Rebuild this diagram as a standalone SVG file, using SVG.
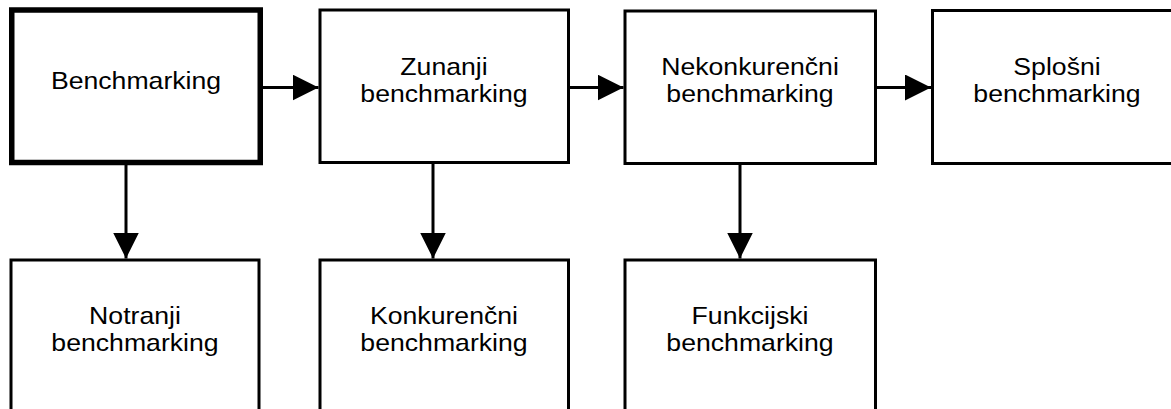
<svg xmlns="http://www.w3.org/2000/svg" width="1171" height="409" viewBox="0 0 1171 409">
  <defs>
    <style>
      .box { fill: #ffffff; stroke: #000000; stroke-width: 3; }
      .box.main { stroke-width: 5.5; }
      .label { font-family: "Liberation Sans", Arial, sans-serif; font-size: 24px; fill: #000000; text-anchor: middle; }
      .edge { stroke: #000000; stroke-width: 3; fill: none; }
    </style>
    <marker id="arrow" markerUnits="userSpaceOnUse" markerWidth="26" markerHeight="26" refX="26" refY="13" orient="auto">
      <path d="M0,0 L26,13 L0,26 Z" fill="#000000"/>
    </marker>
  </defs>

  <rect width="1171" height="409" fill="#ffffff"/>

  <!-- top row -->
  <g id="node-benchmarking">
    <rect class="box main" x="11.75" y="10" width="248.5" height="152.5"/>
    <text class="label" transform="translate(136 89) scale(1.11 1)">Benchmarking</text>
  </g>
  <g id="node-zunanji">
    <rect class="box" x="320" y="10" width="248.5" height="152.5"/>
    <text class="label" transform="translate(444 75) scale(1.11 1)">Zunanji</text>
    <text class="label" transform="translate(444 102) scale(1.11 1)">benchmarking</text>
  </g>
  <g id="node-nekonkurencni">
    <rect class="box" x="625" y="11" width="250.5" height="152.5"/>
    <text class="label" transform="translate(750 75) scale(1.11 1)">Nekonkurenčni</text>
    <text class="label" transform="translate(750 102) scale(1.11 1)">benchmarking</text>
  </g>
  <g id="node-splosni">
    <rect class="box" x="932.5" y="10.5" width="250" height="153"/>
    <text class="label" transform="translate(1057 75) scale(1.11 1)">Splošni</text>
    <text class="label" transform="translate(1057 102) scale(1.11 1)">benchmarking</text>
  </g>

  <!-- bottom row -->
  <g id="node-notranji">
    <rect class="box" x="11" y="260" width="248" height="160"/>
    <text class="label" transform="translate(135 323.5) scale(1.11 1)">Notranji</text>
    <text class="label" transform="translate(135 351) scale(1.11 1)">benchmarking</text>
  </g>
  <g id="node-konkurencni">
    <rect class="box" x="320" y="260" width="248.5" height="160"/>
    <text class="label" transform="translate(444 323.5) scale(1.11 1)">Konkurenčni</text>
    <text class="label" transform="translate(444 351) scale(1.11 1)">benchmarking</text>
  </g>
  <g id="node-funkcijski">
    <rect class="box" x="625" y="260" width="250.5" height="160"/>
    <text class="label" transform="translate(750 323.5) scale(1.11 1)">Funkcijski</text>
    <text class="label" transform="translate(750 351) scale(1.11 1)">benchmarking</text>
  </g>

  <!-- connectors -->
  <g id="connectors">
    <line class="edge" x1="263" y1="87.5" x2="318.5" y2="87.5" marker-end="url(#arrow)"/>
    <line class="edge" x1="570" y1="87.5" x2="623.5" y2="87.5" marker-end="url(#arrow)"/>
    <line class="edge" x1="877" y1="87.5" x2="931" y2="87.5" marker-end="url(#arrow)"/>
    <line class="edge" x1="126" y1="165" x2="126" y2="258.5" marker-end="url(#arrow)"/>
    <line class="edge" x1="433" y1="164" x2="433" y2="258.5" marker-end="url(#arrow)"/>
    <line class="edge" x1="740" y1="165" x2="740" y2="258.5" marker-end="url(#arrow)"/>
  </g>
</svg>
